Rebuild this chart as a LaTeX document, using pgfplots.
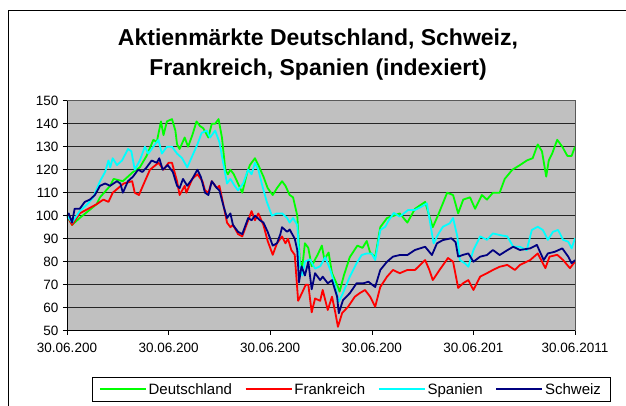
\documentclass[border=0pt]{standalone}
\usepackage{fontspec}
\setmainfont{Liberation Sans}
\usepackage{pgfplots}
\pgfplotsset{compat=1.18}
\definecolor{dgreen}{RGB}{0,255,0}
\definecolor{dred}{RGB}{255,0,0}
\definecolor{dcyan}{RGB}{0,255,255}
\definecolor{dnavy}{RGB}{0,0,128}
\definecolor{plotbg}{RGB}{192,192,192}
\begin{document}
\begin{tikzpicture}[x=1pt,y=1pt]
\path[use as bounding box] (-67,-74.3) rectangle (559,330.7);
\draw[black,line width=0.8pt] (-59,-120) -- (-59,320.7) -- (700,320.7);
\node[font=\bfseries\fontsize{23}{30}\selectfont,align=center] at (251,276) {Aktienmärkte Deutschland, Schweiz,\\Frankreich, Spanien (indexiert)};
\begin{axis}[
  at={(0,0)}, anchor=south west,
  scale only axis, width=508pt, height=230pt,
  xmin=0, xmax=60, ymin=50, ymax=150,
  axis background/.style={fill=plotbg},
  axis line style={draw=gray!70!black, line width=0.6pt},
  xtick={0,12,24,36,48,60},
  xticklabels={30.06.200,30.06.200,30.06.200,30.06.200,30.06.201,30.06.2011},
  ytick={50,60,...,150},
  ymajorgrids, major grid style={black!85, line width=0.7pt},
  tick align=outside, xtick pos=bottom, ytick pos=left,
  major tick length=4pt,
  tick style={black, line width=0.6pt},
  /pgf/number format/assume math mode=true,
  ticklabel style={font=\fontsize{13.5}{15}\selectfont},
  xticklabel style={yshift=-5pt},
  yticklabel style={xshift=-1pt},
  legend columns=4,
  legend style={at={(0.0492,-0.2013)}, anchor=north west, draw=black, fill=white,
    font=\fontsize{15}{17}\selectfont, inner xsep=7pt, inner ysep=4pt,
    /tikz/every even column/.append style={column sep=11pt}},
  legend image code/.code={\draw[#1,line width=1.4pt](0pt,0.3pt)--(46pt,0.3pt);},
  every axis plot/.append style={line width=1.8pt, line join=round},
]
\addplot[dgreen] coordinates {
(0,100)(0.6,96)(1.5,99)(2.5,102)(3.5,105)(3.9,108)(5.1,113)(5.5,116)(6.6,115)(7.8,119)
(8.6,121)(9.4,126)(10.2,133)(10.6,132)(11.1,141)(11.4,135)(11.8,141)(12.4,142)(12.8,137)(13.0,131)
(13.3,129)(13.9,134)(14.3,130)(14.8,135)(15.3,141)(15.7,139)(16.1,138)(16.7,134)(17.1,140)(17.5,140)
(17.9,142)(18.3,134)(18.7,120)(19.0,118)(19.3,120)(19.7,118)(20.2,114)(20.7,110)(21.3,119)(21.6,122)
(22.2,125)(22.6,122)(23.2,117)(23.7,112)(24.3,109)(24.8,112)(25.4,115)(25.8,113)(26.3,109)(26.7,108)
(27.2,100)(27.5,80)(27.8,78)(28.1,88)(28.5,86)(28.9,78)(29.3,81)(29.6,83)(30.1,87)(30.4,81)
(30.9,84)(31.3,75)(31.9,70)(32.2,67)(32.7,74)(33.4,82)(34.3,87)(34.9,86)(35.4,89)(35.8,84)
(36.4,82)(37.0,95)(37.8,99)(38.6,100)(39.3,101)(40.2,97)(41.1,103)(42.3,106)(42.7,101)(43.2,95)
(43.8,100)(44.9,110)(45.6,109)(46.2,101)(46.8,107)(47.6,108)(48.2,103)(49.0,109)(49.6,107)(50.3,110)
(51.1,110)(51.7,116)(52.6,120)(53.5,122)(54.3,124)(55.0,125)(55.6,131)(56.1,128)(56.6,117)(56.9,124)
(57.3,127)(57.9,133)(58.5,130)(59.1,126)(59.6,126)(60,130)
};
\addlegendentry{Deutschland}
\addplot[dred] coordinates {
(0,100)(0.6,96)(1.5,101)(2.5,103)(3.5,105)(4.3,107)(4.9,106)(5.4,110)(6.7,114)(7.7,115)
(8.0,110)(8.5,109)(9.2,115)(9.8,120)(10.8,123)(11.4,120)(12.0,123)(12.4,123)(13.0,115)(13.3,109)
(13.9,113)(14.1,110)(14.8,116)(15.4,118)(16.0,115)(16.3,111)(16.7,110)(17.1,115)(17.7,112)(18.0,113)
(18.4,106)(18.9,97)(19.3,95)(19.6,96)(20.2,92)(20.7,91)(21.3,97)(21.8,102)(22.2,98)(22.6,101)
(23.2,96)(23.7,89)(24.3,83)(24.8,88)(25.4,91)(25.8,88)(26.1,90)(26.5,85)(26.9,83)(27.3,63)
(27.7,66)(28.2,70)(28.5,70)(28.9,58)(29.3,64)(29.9,63)(30.2,67.7)(30.8,59)(31.3,64.8)(31.7,57.7)
(32.0,51.7)(32.5,57.7)(33.2,60.4)(34.0,64.8)(34.6,66.4)(35.2,67.7)(35.8,64.8)(36.4,60.4)(37.0,69)(37.8,73.5)
(38.5,76.4)(39.3,75)(40.2,76.4)(41.1,76.4)(42.3,80.7)(42.8,76.4)(43.2,72)(44.0,76.4)(45.0,81.6)(45.6,80)
(46.2,68.6)(46.8,70.7)(47.4,72)(48.0,67.7)(48.8,73.5)(49.6,75)(50.3,76.4)(51.1,77.8)(52.0,78.6)(52.9,76.4)
(53.5,78.6)(54.7,80.7)(55.6,83.6)(56.5,77.2)(57.0,82.2)(57.9,83)(58.6,80.7)(59.4,77.2)(60,80)
};
\addlegendentry{Frankreich}
\addplot[dcyan] coordinates {
(0,100)(0.6,97)(1.5,102)(2.4,105)(3.1,108)(3.9,115)(4.5,119)(4.9,124)(5.1,121)(5.4,125)
(5.9,122)(6.5,124)(7.2,129)(7.6,128)(8.0,120)(8.6,124)(9.2,130)(9.6,127)(10.2,130)(10.8,133)
(11.2,127)(11.8,130)(12.4,130)(13.0,127)(13.6,125)(14.2,121)(14.8,126)(15.4,131)(15.9,136)(16.5,137)
(16.9,134)(17.5,137)(18.0,132)(18.5,122)(18.9,114)(19.3,116)(19.8,113)(20.2,111)(20.8,114)(21.4,120)
(21.8,118)(22.2,123)(22.6,120)(23.0,114)(23.6,106)(24.2,100)(24.8,101)(25.4,101)(26.0,99)(26.3,97)
(26.7,99)(27.2,96)(27.5,78)(27.8,74)(28.1,80)(28.7,81)(29.3,77)(29.9,78)(30.5,82)(31.1,76.4)
(31.7,69)(32.1,62.6)(32.6,66.4)(33.4,73.5)(34.2,79.3)(34.8,82.9)(35.4,83.6)(36.0,83.6)(36.4,80.7)(37.0,93.8)
(37.6,95.2)(38.0,98)(38.6,101.2)(39.3,99.6)(40.3,102.5)(41.1,102.5)(41.9,104)(42.5,105.4)(42.9,96.7)(43.3,88)
(43.9,92.3)(44.4,95.2)(45.2,96.7)(45.6,99)(46.1,91)(46.4,80.7)(47.0,79.3)(47.4,77.8)(48.0,85)(48.8,91)
(49.6,89.5)(50.3,92.3)(51.1,91.6)(52.0,91)(52.7,86.5)(53.5,86.5)(54.3,85)(54.9,93.8)(55.6,95.2)(56.2,93.8)
(56.8,89.5)(57.4,93)(58.0,93.8)(58.6,89.5)(59.2,88.7)(59.6,85.8)(60,90.2)
};
\addlegendentry{Spanien}
\addplot[dnavy] coordinates {
(0,100)(0.2,101)(0.6,97)(0.9,103)(1.5,103)(2.1,106)(2.7,107)(3.3,109)(3.9,113)(4.5,114)
(5.1,113)(5.9,115)(6.3,114)(6.6,110)(7.2,115)(7.8,117)(8.4,120)(8.9,119)(9.4,121)(10.0,124)
(10.6,123)(10.9,125)(11.3,120)(11.9,122)(12.5,119)(13.0,113)(13.3,112)(13.7,116)(14.2,113)(14.8,116)
(15.4,120)(15.8,117)(16.3,110)(16.7,109)(17.1,115)(17.7,112)(18.0,111)(18.5,104)(18.9,99)(19.3,101)
(19.6,96)(20.2,93)(20.7,92)(21.0,95)(21.4,99)(21.8,98)(22.2,100)(22.8,98)(23.2,97)(23.7,93)
(24.3,87)(24.8,88)(25.2,92)(25.4,95)(26.0,93)(26.3,94)(26.9,90)(27.2,85)(27.4,71)(27.7,78)
(28.1,74)(28.5,80)(28.9,68)(29.3,75)(29.9,72)(30.2,73.5)(30.8,70.6)(31.3,72)(31.9,64.8)(32.1,57.6)
(32.6,63.3)(33.4,66.3)(34.2,70.6)(35.0,70.6)(35.6,71.3)(36.4,69)(37.0,76.4)(37.8,80)(38.5,82.2)(39.3,82.9)
(40.2,82.9)(41.1,85.1)(42.3,86.5)(43.1,82.9)(43.7,88)(44.4,89.4)(45.4,90.2)(45.9,88.5)(46.2,82.2)(46.8,83)
(47.4,83.6)(48.0,80)(48.8,82.2)(49.6,82.9)(50.3,85.1)(51.1,82.9)(52.0,85)(52.7,86.5)(53.5,85.1)(54.7,85.8)
(55.5,87.3)(56.3,80.7)(56.8,83.6)(57.6,84.3)(58.5,85.8)(59.2,82.2)(59.6,79.3)(60,80.7)
};
\addlegendentry{Schweiz}
\end{axis}
\draw[black,line width=0.8pt] (0,230) -- (0,0) -- (508,0);
\end{tikzpicture}
\end{document}
